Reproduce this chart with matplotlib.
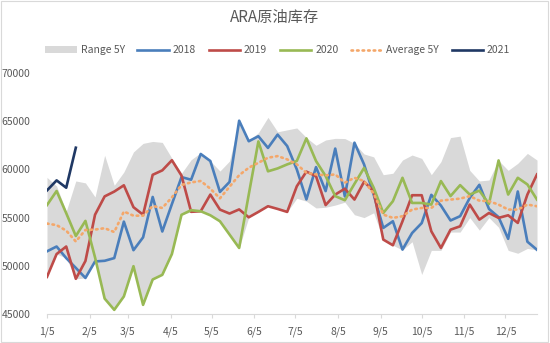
import matplotlib
matplotlib.use("Agg")
import matplotlib.pyplot as plt
from matplotlib.patches import Rectangle, Patch
from matplotlib.lines import Line2D
import numpy as np

plt.rcParams['font.family'] = ['Noto Sans CJK SC', 'DejaVu Sans']

# weekly ARA crude stocks, week 1 = 1/5
weeks = list(range(52))
month_labels = ['1/5', '2/5', '3/5', '4/5', '5/5', '6/5', '7/5', '8/5', '9/5', '10/5', '11/5', '12/5']
month_days = [0, 31, 59, 90, 120, 151, 181, 212, 243, 273, 304, 334]

range_hi = [59170, 58270, 55650, 58800, 58600, 57140, 61460, 58350, 59730, 61810,
            62700, 62900, 62800, 61150, 59600, 61000, 61730, 60870, 59830, 60870,
            65050, 63000, 63800, 65400, 63900, 64100, 64300, 63300, 62500, 63050,
            63220, 63200, 62700, 61600, 61300, 59450, 59600, 60970, 61490, 61140,
            59450, 60800, 63300, 63450, 59900, 58800, 58900, 60930, 59900, 60630,
            61660, 60970]
range_lo = [48850, 51220, 50800, 48650, 48740, 50450, 46600, 45430, 46820, 49960,
            45950, 48580, 49060, 51220, 55290, 55600, 55660, 55240, 54620, 53240,
            51850, 55030, 55590, 56180, 55900, 55590, 57000, 56700, 56000, 56070,
            56300, 56600, 55300, 55000, 55500, 52720, 52130, 51640, 52500, 49100,
            51600, 51600, 53500, 53500, 55000, 53700, 55000, 54000, 51600, 51300,
            51800, 51640]
y2018 = [51500, 52000, 50800, 49780, 48740, 50450, 50520, 50800, 54580, 51620,
         52950, 57140, 53560, 56400, 59200, 58930, 61600, 60870, 57660, 58700,
         65050, 62920, 63440, 62230, 63610, 62420, 60000, 56890, 60240, 57750,
         62160, 57200, 62770, 60520, 57390, 53930, 54620, 51680, 53400, 54430,
         57360, 56250, 54700, 55150, 57040, 58400, 55900, 55050, 52800, 57710,
         52500, 51660]
y2019 = [48850, 51220, 52000, 48650, 50500, 55300, 57200, 57700, 58350, 56080,
         55300, 59440, 59900, 60950, 59360, 55600, 55660, 57390, 55830, 55420,
         55850, 55030, 55590, 56180, 55900, 55590, 58250, 59770, 59300, 56300,
         57390, 58000, 56870, 58720, 57730, 52720, 52130, 54620, 57320, 57320,
         53580, 51850, 53750, 54100, 56350, 54790, 55480, 54970, 55240, 54450,
         57390, 59480]
y2020 = [56300, 57760, 55460, 53090, 54660, 50870, 46600, 45430, 46820, 49960,
         45950, 48580, 49060, 51220, 55290, 55770, 55660, 55240, 54620, 53240,
         51850, 57400, 62900, 59800, 60100, 60520, 60870, 63220, 60870, 59310,
         57230, 56800, 58500, 60150, 58100, 55480, 56700, 59130, 56520, 56520,
         56350, 58790, 57230, 58370, 57390, 57800, 56420, 60930, 57390, 59130,
         58440, 56870]
avg5y = [54380, 54220, 53650, 52520, 53720, 53760, 53900, 53500, 55630, 55200,
         55200, 56200, 56000, 57100, 58380, 58650, 58800, 58000, 57000, 58200,
         59400, 60170, 60690, 61210, 61380, 61040, 60520, 59650, 59480, 59380,
         59480, 58620, 59130, 58790, 57500, 55310, 54970, 55140, 55830, 56000,
         56000, 56760, 56870, 56970, 57230, 56760, 56700, 56350, 55830, 55830,
         56350, 56180]
y2021 = [57820, 58860, 58100, 62250]

days = [7 * w for w in weeks]

fig = plt.figure(figsize=(5.5, 3.43), dpi=100)
ax = fig.add_axes([47 / 550, 1 - 314 / 343, 490 / 550, 241 / 343])

ax.fill_between(days, range_lo, range_hi, color='#D9D9D9', linewidth=0, zorder=1)
lw = 1.9
dots = (0, (0.6, 1.5))
ax.plot(days, y2018, color='#4A7EBB', lw=lw, zorder=2)
ax.plot(days, y2019, color='#BE4B48', lw=lw, zorder=3)
ax.plot(days, y2020, color='#98B954', lw=lw, zorder=4)
ax.plot(days, avg5y, color='#F4A76A', lw=1.9, linestyle=dots,
        dash_capstyle='round', zorder=5)
ax.plot(days[:len(y2021)], y2021, color='#1F3864', lw=lw, zorder=6)

ax.set_xlim(0, days[-1])
ax.set_ylim(45000, 70000)
ax.set_yticks(np.arange(45000, 70001, 5000))
ax.set_xticks(month_days)
ax.set_xticklabels(month_labels)

for side in ['top', 'right', 'left']:
    ax.spines[side].set_visible(False)
ax.spines['bottom'].set_color('#D9D9D9')
ax.spines['bottom'].set_linewidth(0.8)
ax.tick_params(axis='y', length=0, pad=12, labelsize=7.5, labelcolor='#595959')
ax.tick_params(axis='x', length=3, color='#D9D9D9', pad=6, labelsize=7.5, labelcolor='#595959')

fig.text(0.5, 1 - 17 / 343, 'ARA原油库存', ha='center', va='center', fontsize=11, color='#595959')

handles = [
    Patch(facecolor='#D9D9D9', edgecolor='none'),
    Line2D([], [], color='#4A7EBB', lw=lw),
    Line2D([], [], color='#BE4B48', lw=lw),
    Line2D([], [], color='#98B954', lw=lw),
    Line2D([], [], color='#F4A76A', lw=1.9, linestyle=dots, dash_capstyle='round'),
    Line2D([], [], color='#1F3864', lw=lw),
]
labels = ['Range 5Y', '2018', '2019', '2020', 'Average 5Y', '2021']
fig.legend(handles, labels, loc='center', bbox_to_anchor=(0.505, 1 - 50 / 343), ncol=6,
           frameon=False, fontsize=7.5, labelcolor='#595959', handlelength=3.0,
           handleheight=0.6, handletextpad=0.4, columnspacing=1.2)

fig.patches.append(Rectangle((0.002, 0.003), 0.995, 0.994, transform=fig.transFigure,
                             fill=False, edgecolor='#D9D9D9', linewidth=0.8))

fig.savefig('out.png', dpi=100, facecolor='white')
